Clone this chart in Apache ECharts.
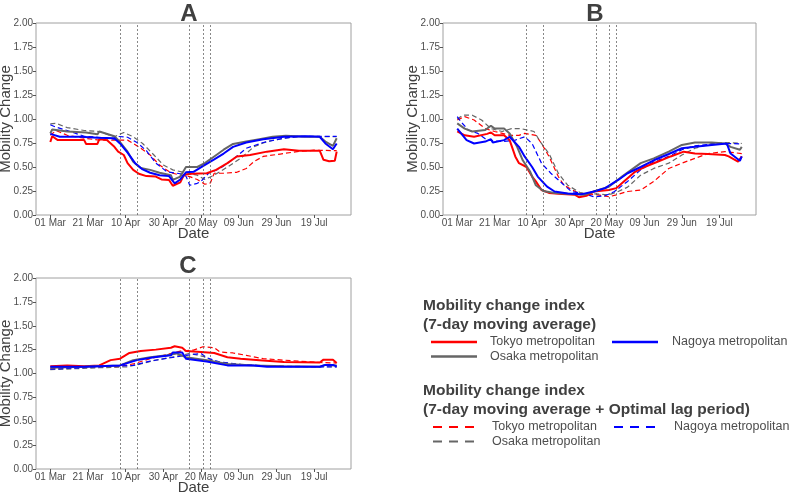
<!DOCTYPE html>
<html>
<head>
<meta charset="utf-8">
<script src="https://cdn.jsdelivr.net/npm/echarts@6/dist/echarts.min.js"></script>
<style>html,body{margin:0;padding:0;background:#fff;}#c{width:791px;height:493px;}</style>
</head>
<body>
<div id="c"></div>
<script>
// Days counted from 01 Mar
const tickDays = [0, 20, 40, 60, 80, 100, 120, 140];
const tickLabels = ['01 Mar', '21 Mar', '10 Apr', '30 Apr', '20 May', '09 Jun', '29 Jun', '19 Jul'];
const eventDays = [37, 46, 74, 81, 85];
const panelTitles = ['A', 'B', 'C'];
const regionNames = ['Tokyo metropolitan', 'Osaka metropolitan', 'Nagoya metropolitan'];

// Panel A
const tokyoA = [[0,0.76],[1,0.82],[4,0.78],[18,0.78],[19,0.74],[25,0.74],[26,0.79],[30,0.78],[34,0.71],[36,0.66],[39,0.625],[41,0.54],[44,0.47],[47,0.43],[51,0.405],[56,0.40],[59,0.37],[63,0.365],[65,0.305],[69,0.34],[71,0.42],[75,0.43],[83,0.435],[88,0.47],[94,0.54],[99,0.61],[106,0.625],[115,0.66],[124,0.685],[132,0.67],[143,0.67],[145,0.575],[148,0.56],[151,0.565],[152,0.66]];
const osakaA = [[0,0.85],[1,0.89],[9,0.87],[19,0.86],[25,0.84],[26,0.87],[34,0.82],[37,0.76],[41,0.66],[44,0.555],[48,0.49],[53,0.47],[58,0.44],[64,0.415],[65,0.365],[69,0.40],[72,0.50],[78,0.50],[82,0.54],[87,0.61],[92,0.68],[97,0.74],[104,0.765],[111,0.79],[118,0.815],[125,0.825],[136,0.815],[143,0.815],[146,0.765],[150,0.72],[152,0.80]];
const nagoyaA = [[0,0.845],[1,0.86],[5,0.815],[16,0.815],[25,0.805],[26,0.825],[34,0.80],[37,0.745],[41,0.65],[45,0.54],[49,0.475],[53,0.44],[58,0.415],[63,0.405],[66,0.33],[69,0.37],[72,0.445],[76,0.45],[81,0.51],[87,0.58],[92,0.64],[97,0.71],[104,0.755],[113,0.79],[124,0.815],[136,0.82],[143,0.815],[146,0.745],[150,0.685],[152,0.745]];
const tokyoLagA = [[0,0.83],[3,0.88],[9,0.83],[18,0.80],[26,0.78],[35,0.78],[41,0.78],[44,0.745],[48,0.695],[53,0.625],[58,0.52],[64,0.44],[69,0.415],[74,0.40],[78,0.37],[82,0.32],[85,0.335],[87,0.435],[92,0.435],[99,0.445],[104,0.485],[108,0.555],[113,0.61],[122,0.635],[131,0.66],[140,0.675],[152,0.67]];
const osakaLagA = [[0,0.95],[3,0.955],[9,0.91],[18,0.88],[26,0.87],[34,0.815],[39,0.86],[44,0.815],[49,0.745],[55,0.625],[60,0.52],[65,0.47],[72,0.44],[78,0.415],[82,0.37],[87,0.415],[94,0.50],[101,0.59],[108,0.71],[115,0.765],[124,0.80],[132,0.815],[152,0.815]];
const nagoyaLagA = [[0,0.94],[3,0.915],[9,0.88],[18,0.82],[26,0.81],[34,0.79],[35,0.82],[41,0.81],[46,0.755],[51,0.67],[56,0.54],[62,0.45],[69,0.43],[72,0.405],[74,0.31],[78,0.33],[80,0.35],[84,0.435],[90,0.485],[97,0.58],[104,0.695],[113,0.755],[124,0.80],[132,0.82],[152,0.82]];

// Panel B
const tokyoB = [[0,0.87],[1,0.89],[4,0.83],[9,0.815],[16,0.845],[18,0.86],[20,0.83],[25,0.83],[28,0.78],[31,0.61],[33,0.54],[37,0.50],[40,0.40],[42,0.35],[45,0.26],[49,0.23],[56,0.22],[63,0.21],[65,0.185],[69,0.20],[73,0.245],[81,0.26],[85,0.28],[89,0.35],[95,0.45],[100,0.50],[107,0.555],[114,0.61],[121,0.66],[127,0.64],[134,0.635],[143,0.625],[145,0.61],[150,0.555],[152,0.61]];
const osakaB = [[0,0.955],[4,0.90],[8,0.87],[15,0.885],[18,0.93],[20,0.90],[25,0.90],[28,0.85],[32,0.71],[35,0.57],[39,0.45],[42,0.31],[46,0.25],[52,0.23],[61,0.22],[68,0.21],[73,0.245],[81,0.295],[88,0.40],[93,0.47],[98,0.54],[105,0.59],[113,0.66],[120,0.73],[127,0.755],[136,0.755],[143,0.745],[146,0.71],[151,0.68],[152,0.71]];
const nagoyaB = [[0,0.90],[1,0.885],[5,0.78],[9,0.745],[15,0.765],[18,0.79],[19,0.755],[25,0.78],[28,0.815],[33,0.71],[36,0.61],[40,0.50],[43,0.40],[48,0.295],[52,0.245],[59,0.225],[66,0.215],[73,0.245],[79,0.28],[86,0.365],[91,0.435],[98,0.50],[105,0.57],[113,0.635],[120,0.695],[127,0.71],[136,0.73],[144,0.745],[146,0.64],[151,0.565],[152,0.61]];
const tokyoLagB = [[0,0.99],[4,1.025],[9,0.99],[15,0.90],[20,0.87],[28,0.83],[33,0.83],[36,0.85],[42,0.83],[45,0.745],[49,0.61],[54,0.40],[57,0.31],[65,0.225],[70,0.22],[75,0.21],[81,0.19],[85,0.21],[91,0.245],[98,0.26],[105,0.35],[113,0.485],[120,0.54],[127,0.59],[134,0.64],[143,0.66],[152,0.64]];
const osakaLagB = [[0,1.00],[3,1.04],[8,1.04],[13,0.99],[18,0.90],[24,0.87],[29,0.90],[34,0.90],[41,0.87],[45,0.745],[49,0.64],[54,0.435],[59,0.31],[66,0.23],[73,0.22],[81,0.21],[86,0.245],[91,0.29],[98,0.415],[105,0.485],[113,0.54],[120,0.625],[127,0.695],[136,0.745],[145,0.755],[152,0.745]];
const nagoyaLagB = [[0,1.025],[2,0.97],[6,0.885],[11,0.85],[16,0.78],[24,0.765],[31,0.78],[36,0.815],[40,0.745],[45,0.54],[50,0.435],[56,0.33],[61,0.245],[68,0.22],[73,0.19],[79,0.20],[84,0.245],[91,0.35],[98,0.47],[105,0.555],[113,0.61],[120,0.68],[127,0.72],[136,0.74],[145,0.745],[152,0.74]];

// Panel C
const tokyoC = [[0,1.075],[9,1.085],[18,1.075],[26,1.085],[32,1.14],[37,1.155],[42,1.215],[48,1.235],[56,1.25],[64,1.27],[66,1.285],[70,1.27],[72,1.235],[80,1.225],[87,1.215],[94,1.17],[101,1.155],[111,1.14],[124,1.12],[143,1.115],[145,1.145],[150,1.145],[152,1.11]];
const osakaC = [[0,1.06],[18,1.07],[37,1.085],[44,1.14],[53,1.17],[62,1.19],[67,1.21],[72,1.17],[83,1.14],[94,1.10],[108,1.085],[124,1.075],[143,1.07],[146,1.09],[152,1.085]];
const nagoyaC = [[0,1.07],[18,1.07],[37,1.085],[46,1.14],[55,1.17],[64,1.19],[65,1.22],[70,1.22],[72,1.155],[83,1.125],[94,1.085],[108,1.085],[115,1.07],[143,1.07],[146,1.09],[150,1.09],[152,1.075]];
const tokyoLagC = [[0,1.05],[9,1.06],[26,1.07],[35,1.07],[44,1.10],[53,1.155],[62,1.20],[69,1.235],[76,1.245],[81,1.28],[87,1.27],[90,1.225],[97,1.215],[104,1.19],[113,1.155],[124,1.14],[143,1.115],[152,1.11]];
const osakaLagC = [[0,1.04],[26,1.06],[41,1.07],[48,1.10],[56,1.14],[67,1.18],[74,1.21],[81,1.18],[88,1.12],[97,1.10],[111,1.085],[125,1.075],[152,1.07]];
const nagoyaLagC = [[0,1.045],[26,1.07],[44,1.085],[53,1.13],[64,1.165],[72,1.19],[80,1.21],[83,1.165],[90,1.12],[101,1.095],[115,1.075],[143,1.07],[152,1.07]];

const panels = [
  {solid: [tokyoA, osakaA, nagoyaA], lag: [tokyoLagA, osakaLagA, nagoyaLagA]},
  {solid: [tokyoB, osakaB, nagoyaB], lag: [tokyoLagB, osakaLagB, nagoyaLagB]},
  {solid: [tokyoC, osakaC, nagoyaC], lag: [tokyoLagC, osakaLagC, nagoyaLagC]}
];

const colors = ['#ff0000', '#666666', '#0000ff'];
const textCol = '#404040';
const font = 'Liberation Sans, Arial, sans-serif';

const grids = [
  {left: 36, top: 23, width: 315, height: 192},
  {left: 443, top: 23, width: 313, height: 192},
  {left: 36, top: 278, width: 315, height: 191}
];

const xAxes = grids.map((g, i) => ({
  type: 'value', gridIndex: i, min: -7.6, max: 159.6,
  name: 'Date', nameLocation: 'middle', nameGap: 11, nameMoveOverlap: false,
  nameTextStyle: {fontSize: 15, color: textCol, fontFamily: font, verticalAlign: 'top'},
  axisLine: {show: false, onZero: false},
  axisTick: {show: true, customValues: tickDays, length: 3, lineStyle: {color: '#555'}},
  axisLabel: {customValues: tickDays, fontSize: 10, color: '#4d4d4d', fontFamily: font, margin: 3,
    formatter: v => tickLabels[tickDays.indexOf(v)] || ''},
  splitLine: {show: false}
}));
const yAxes = grids.map((g, i) => ({
  type: 'value', gridIndex: i, min: 0, max: 2, interval: 0.25,
  name: 'Mobility Change', nameLocation: 'middle', nameGap: 23, nameMoveOverlap: false,
  nameTextStyle: {fontSize: 15, color: textCol, fontFamily: font},
  axisLine: {show: false, onZero: false},
  axisTick: {show: true, length: 3, lineStyle: {color: '#555'}},
  axisLabel: {fontSize: 10, color: '#4d4d4d', fontFamily: font, margin: 3, formatter: v => v.toFixed(2)},
  splitLine: {show: false}
}));

const series = [];
panels.forEach((p, i) => {
  series.push({
    type: 'line', xAxisIndex: i, yAxisIndex: i, data: [], silent: true,
    markLine: {symbol: 'none', silent: true, label: {show: false},
      lineStyle: {color: '#555', width: 0.7, type: [2, 2]},
      data: eventDays.map(d => ({xAxis: d}))}
  });
  p.lag.forEach((d, k) => series.push({
    type: 'line', xAxisIndex: i, yAxisIndex: i, data: d, showSymbol: false, silent: true,
    lineStyle: {color: colors[k], width: 1.2, type: [5, 3]}
  }));
  p.solid.forEach((d, k) => series.push({
    type: 'line', xAxisIndex: i, yAxisIndex: i, data: d, showSymbol: false, silent: true,
    lineStyle: {color: colors[k], width: 2}
  }));
});

const titles = [
  {text: panelTitles[0], left: 189, top: 14},
  {text: panelTitles[1], left: 595, top: 14},
  {text: panelTitles[2], left: 188, top: 266}
].map(t => ({type: 'text', x: t.left, y: t.top,
  style: {text: t.text, font: 'bold 24px ' + font, fill: textCol, align: 'center', verticalAlign: 'middle'}}));

function legendBlock(y0, line1, line2, dashed) {
  const els = [];
  const hs = {font: 'bold 15.5px ' + font, fill: textCol, align: 'left', verticalAlign: 'middle'};
  els.push({type: 'text', x: 423, y: y0, style: Object.assign({text: line1}, hs)});
  els.push({type: 'text', x: 423, y: y0 + 19, style: Object.assign({text: line2}, hs)});
  const pos = [[431, 490, y0 + 36], [431, 490, y0 + 50.5], [612, 672, y0 + 36]];
  pos.forEach((p, k) => {
    els.push({type: 'line', shape: {x1: p[0] + (dashed ? 2 : 0), y1: p[2], x2: p[0] + 46, y2: p[2]},
      style: {stroke: colors[k], lineWidth: dashed ? 2 : 2.5, lineDash: dashed ? [9, 7] : null}});
    els.push({type: 'text', x: p[1] + (dashed ? 2 : 0), y: p[2],
      style: {text: regionNames[k], font: '12.5px ' + font, fill: '#4d4d4d', align: 'left', verticalAlign: 'middle'}});
  });
  return els;
}

const graphic = titles
  .concat(legendBlock(306, 'Mobility change index', '(7-day moving average)', false))
  .concat(legendBlock(391, 'Mobility change index', '(7-day moving average + Optimal lag period)', true));

const chart = echarts.init(document.getElementById('c'), null, {renderer: 'canvas'});
chart.setOption({
  animation: false,
  backgroundColor: '#fff',
  grid: grids.map(g => Object.assign({show: true, borderColor: '#a0a0a0', borderWidth: 1,
    backgroundColor: 'transparent', outerBoundsMode: 'none', containLabel: false}, g)),
  xAxis: xAxes,
  yAxis: yAxes,
  series: series,
  graphic: graphic
});
</script>
</body>
</html>
